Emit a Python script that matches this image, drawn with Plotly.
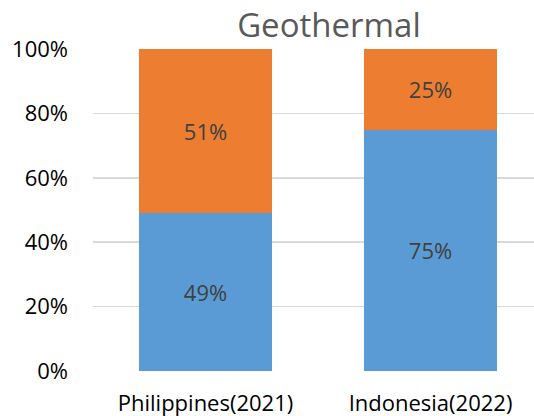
import plotly.graph_objects as go

categories = ["Philippines(2021)", "Indonesia(2022)"]
series_a = [49, 75]
series_b = [51, 25]
labels_a = ["49%", "75%"]
labels_b = ["51%", "25%"]
ytick_vals = [0, 20, 40, 60, 80, 100]
ytick_text = ["0%", "20%", "40%", "60%", "80%", "100%"]

font_family = "Open Sans"

fig = go.Figure()
fig.add_trace(go.Bar(x=categories, y=series_a, text=labels_a, textposition="inside",
                     insidetextanchor="middle", marker=dict(color="#5B9BD5", line=dict(width=0)),
                     textfont=dict(color="#404040", size=22, family=font_family), showlegend=False,
                     hoverinfo="skip"))
fig.add_trace(go.Bar(x=categories, y=series_b, text=labels_b, textposition="inside",
                     insidetextanchor="middle", marker=dict(color="#ED7D31", line=dict(width=0)),
                     textfont=dict(color="#404040", size=22, family=font_family), showlegend=False,
                     hoverinfo="skip"))

fig.update_layout(
    barmode="stack", bargap=0.413,
    width=534, height=416,
    margin=dict(l=93, r=0, t=49, b=45),
    plot_bgcolor="white", paper_bgcolor="white",
    title=dict(text="Geothermal", x=0.616, xanchor="center", y=0.94, yanchor="middle",
               font=dict(size=33, color="#595959", family=font_family)),
    font=dict(family=font_family),
    uniformtext=dict(mode="show", minsize=22),
)
fig.update_yaxes(range=[0, 100], tickvals=ytick_vals, ticktext=ytick_text,
                 showgrid=True, gridcolor="#D9D9D9", gridwidth=1.5, zeroline=False,
                 showline=False, ticks="", ticklabelstandoff=24, automargin=False,
                 tickfont=dict(size=22, color="#000000", family=font_family))
fig.update_xaxes(range=[-0.5, 1.46], showgrid=False, showline=False, ticks="",
                 ticklabelstandoff=17, automargin=False,
                 tickfont=dict(size=22, color="#000000", family=font_family))

fig.write_html("out.html", config={"displayModeBar": False, "staticPlot": True},
               post_script="document.body.style.margin='0';document.body.style.overflow='hidden';")
